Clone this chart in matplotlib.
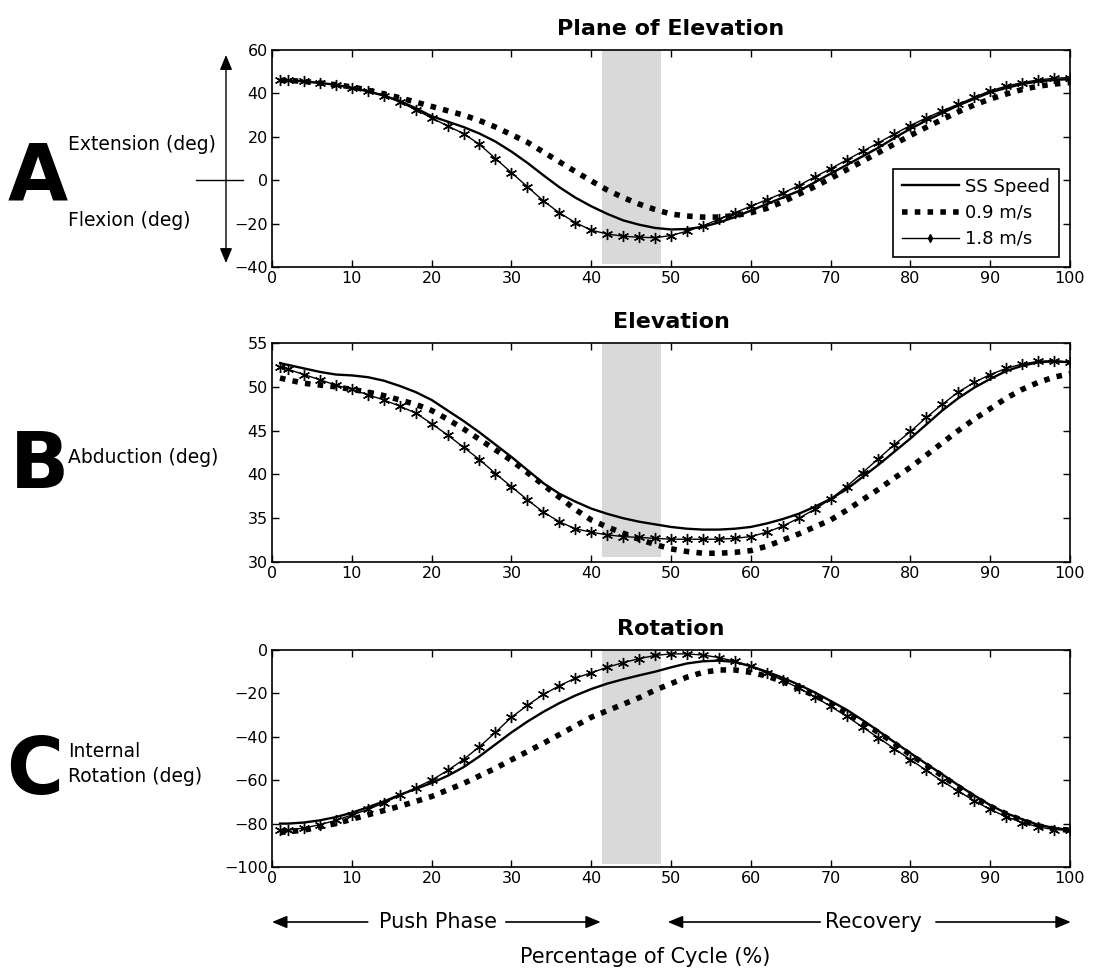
"""Shoulder kinematics over the propulsion cycle - three speeds, three panels."""
import matplotlib
matplotlib.use('Agg')
import matplotlib.pyplot as plt
import matplotlib.transforms as mtransforms
from matplotlib.lines import Line2D

plt.rcParams['font.family'] = ['DejaVu Sans']

# percentage of cycle at which values were read
PCT = [1] + list(range(2, 101, 2))

# A - plane of elevation (deg)
A_SS = [46.0, 46.0, 45.5, 44.8, 44.0, 42.5, 41.0, 39.0, 36.5, 33.2, 29.5,
        27.0, 24.5, 21.5, 17.8, 13.2, 8.0, 2.3, -3.2, -8.0, -12.0,
        -15.5, -18.5, -20.5, -22.0, -22.7, -22.5, -21.5, -19.5, -17.0, -14.0,
        -11.0, -8.0, -5.0, -1.0, 3.0, 7.0, 11.0, 15.0, 19.5, 23.7,
        27.5, 31.0, 34.5, 37.5, 40.5, 42.5, 44.3, 45.5, 46.2, 46.6]
A_09 = [46.0, 46.0, 45.5, 44.8, 44.0, 43.0, 41.5, 39.8, 38.0, 36.0, 34.0,
        32.0, 30.0, 27.5, 24.5, 21.0, 17.5, 13.0, 8.5, 4.0, -0.3,
        -4.5, -8.0, -11.0, -13.5, -15.6, -16.5, -17.0, -17.0, -16.3, -15.0,
        -13.0, -10.0, -6.5, -3.0, 0.8, 4.8, 8.7, 12.7, 16.7, 20.6,
        24.4, 28.0, 31.5, 34.7, 37.4, 39.7, 41.8, 43.3, 44.3, 45.0]
A_18 = [46.0, 46.0, 45.5, 44.8, 44.0, 42.5, 41.0, 39.0, 36.0, 32.5, 28.7,
        25.0, 21.5, 16.5, 10.0, 3.5, -3.0, -9.5, -15.0, -19.5, -23.0,
        -24.8, -25.8, -26.3, -26.5, -25.5, -23.5, -21.0, -18.0, -15.0, -12.0,
        -9.0, -6.0, -2.5, 1.5, 5.3, 9.3, 13.3, 17.3, 21.3, 25.2,
        28.7, 32.0, 35.0, 38.2, 41.2, 43.3, 45.0, 46.2, 47.0, 47.3]

# B - elevation (deg)
B_SS = [52.7, 52.5, 52.1, 51.7, 51.4, 51.3, 51.1, 50.7, 50.1, 49.4, 48.5,
        47.3, 46.1, 44.8, 43.4, 42.0, 40.5, 39.0, 37.8, 36.9, 36.1,
        35.5, 35.0, 34.6, 34.3, 34.0, 33.8, 33.7, 33.7, 33.8, 34.0,
        34.4, 34.9, 35.5, 36.3, 37.2, 38.3, 39.7, 41.1, 42.6, 44.1,
        45.7, 47.3, 48.7, 49.9, 50.9, 51.8, 52.4, 52.8, 52.9, 52.8]
B_09 = [51.0, 50.8, 50.4, 50.2, 50.0, 49.7, 49.4, 49.0, 48.5, 48.0, 47.3,
        46.3, 45.2, 44.0, 42.8, 41.6, 40.2, 38.8, 37.4, 36.0, 34.8,
        34.0, 33.3, 32.6, 32.0, 31.5, 31.2, 31.0, 31.0, 31.1, 31.3,
        31.8, 32.5, 33.2, 34.0, 34.8, 35.9, 37.1, 38.3, 39.6, 40.8,
        42.2, 43.6, 45.0, 46.3, 47.5, 48.7, 49.7, 50.5, 51.1, 51.5]
B_18 = [52.3, 52.0, 51.4, 50.8, 50.2, 49.7, 49.1, 48.5, 47.8, 47.0, 45.8,
        44.5, 43.1, 41.7, 40.1, 38.6, 37.1, 35.7, 34.6, 33.8, 33.4,
        33.1, 32.9, 32.8, 32.7, 32.6, 32.6, 32.6, 32.6, 32.7, 32.9,
        33.4, 34.1, 35.0, 36.0, 37.2, 38.6, 40.2, 41.8, 43.4, 44.9,
        46.5, 48.0, 49.4, 50.5, 51.4, 52.1, 52.6, 52.9, 53.0, 52.8]

# C - rotation (deg)
C_SS = [-80.0, -80.0, -79.5, -78.5, -77.0, -75.0, -72.5, -69.8, -66.8, -64.0, -61.3,
        -58.0, -54.0, -49.0, -43.5, -38.0, -33.0, -28.5, -24.5, -21.0, -18.0,
        -15.5, -13.5, -11.7, -10.0, -8.0, -6.2, -5.2, -4.9, -5.5, -7.5,
        -10.0, -12.8, -16.0, -19.5, -23.5, -27.5, -32.3, -37.3, -42.5, -47.5,
        -52.5, -57.3, -62.3, -67.0, -71.5, -75.2, -78.0, -80.5, -82.0, -83.0]
C_09 = [-84.0, -83.8, -83.0, -81.5, -80.0, -78.0, -76.0, -74.0, -72.0, -69.8, -67.5,
        -64.5, -61.5, -58.0, -54.5, -50.6, -46.8, -43.0, -39.0, -35.0, -31.0,
        -28.0, -25.0, -22.0, -18.5, -15.5, -12.5, -10.3, -9.2, -9.2, -10.3,
        -12.0, -14.5, -17.8, -21.0, -24.5, -29.0, -33.5, -38.0, -43.0, -48.3,
        -53.0, -58.0, -63.0, -67.8, -72.0, -75.5, -78.5, -81.0, -82.5, -83.0]
C_18 = [-83.0, -83.0, -82.0, -80.5, -78.5, -76.0, -73.5, -70.5, -67.0, -63.5, -60.0,
        -55.5, -50.5, -44.5, -38.0, -31.0, -25.5, -20.5, -16.5, -13.0, -10.5,
        -8.0, -5.8, -4.0, -2.5, -1.8, -1.8, -2.3, -3.5, -5.2, -7.5,
        -10.5, -14.0, -17.5, -21.5, -26.0, -30.5, -35.5, -40.5, -45.5, -50.5,
        -55.5, -60.5, -65.0, -69.5, -73.5, -76.8, -79.5, -81.5, -82.8, -83.0]

TITLES = ['Plane of Elevation', 'Elevation', 'Rotation']
YLIMS = [(-40, 60), (30, 55), (-100, 0)]
YTICKS = [[-40, -20, 0, 20, 40, 60], [30, 35, 40, 45, 50, 55],
          [-100, -80, -60, -40, -20, 0]]
BAND_X = (41.3, 48.8)
BAND_LOW = [-38.5, 30.6, -98.5]
LABELS = ['SS Speed', '0.9 m/s', '1.8 m/s']

W, H = 1093, 971
fig = plt.figure(figsize=(W / 100, H / 100), dpi=100)

# axes boxes in pixels: (top, bottom)
boxes = [(50, 267), (343, 562), (650, 867)]
left, right = 272, 1070
series = [(A_SS, A_09, A_18), (B_SS, B_09, B_18), (C_SS, C_09, C_18)]
axes = []
for i, (top, bot) in enumerate(boxes):
    ax = fig.add_axes([left / W, 1 - bot / H, (right - left) / W, (bot - top) / H])
    ss, slow, fast = series[i]
    ax.fill_between(BAND_X, BAND_LOW[i], YLIMS[i][1], color='#d9d9d9', lw=0, zorder=0)
    ax.plot(PCT, slow, color='k', lw=4, ls=(0, (1, 1.3)), dash_capstyle='butt', zorder=2)
    ax.plot(PCT, ss, color='k', lw=1.7, zorder=3)
    ax.plot(PCT, fast, color='k', lw=1, marker=(6, 2, 0), ms=8, mew=1, zorder=4)
    ax.set_xlim(0, 100)
    ax.set_ylim(*YLIMS[i])
    ax.set_xticks(range(0, 101, 10))
    ax.set_yticks(YTICKS[i])
    ax.tick_params(direction='in', top=True, right=True, length=5, width=1,
                   labelsize=11.5, pad=3)
    for s in ax.spines.values():
        s.set_linewidth(1.2)
    ax.set_title(TITLES[i], fontweight='bold', fontsize=16, pad=11)
    axes.append(ax)

axA, axB, axC = axes

handles = [Line2D([], [], color='k', lw=1.7),
           Line2D([], [], color='k', lw=4, ls=(0, (1, 1.3)), dash_capstyle='butt'),
           Line2D([], [], color='k', lw=1, marker='d', ms=4)]
leg = axA.legend(handles, LABELS, loc='lower right', bbox_to_anchor=(0.986, 0.046),
                 borderaxespad=0, fontsize=13, handlelength=3.2, handletextpad=0.3,
                 labelspacing=0.45, borderpad=0.5, fancybox=False, edgecolor='k',
                 framealpha=1)
leg.get_frame().set_linewidth(1.2)

# panel letters and side labels
for letter, x0, base in [('A', 8, 200), ('B', 10, 488), ('C', 6, 794)]:
    fig.text(x0 / W, 1 - base / H, letter, fontsize=56, fontweight='bold',
             ha='left', va='baseline')
for txt, yc in [('Extension (deg)', 145), ('Flexion (deg)', 221),
                ('Abduction (deg)', 457), ('Internal', 751), ('Rotation (deg)', 776)]:
    fig.text(68 / W, 1 - yc / H, txt, fontsize=13.5, ha='left', va='center')

# double arrow and zero marker beside panel A
trA = mtransforms.blended_transform_factory(fig.transFigure, axA.transData)
axA.annotate('', xy=(226 / W, 57.7), xycoords=trA, xytext=(226 / W, -38.2), textcoords=trA,
             arrowprops=dict(arrowstyle='<|-|>,head_length=0.6,head_width=0.25',
                             color='k', lw=1, mutation_scale=15, shrinkA=0, shrinkB=0))
fig.add_artist(Line2D([196 / W, 243 / W], [0, 0], transform=trA, color='k', lw=1))

# phase arrows under panel C
trC = mtransforms.blended_transform_factory(axC.transData, axC.transAxes)
ya = -0.2535
arrow = dict(arrowstyle='-|>,head_length=0.6,head_width=0.25', color='k', lw=1.2,
             mutation_scale=15, shrinkA=0, shrinkB=0)
for tail, tip in [(12.0, 0), (29.3, 41.2), (68.7, 49.6), (83.2, 100.1)]:
    axC.annotate('', xy=(tip, ya), xycoords=trC, xytext=(tail, ya), textcoords=trC,
                 arrowprops=arrow)
axC.text(20.8, ya, 'Push Phase', transform=trC, fontsize=15, ha='center', va='center')
axC.text(75.4, ya, 'Recovery', transform=trC, fontsize=15, ha='center', va='center')
fig.text(645 / W, 1 - 957 / H, 'Percentage of Cycle (%)', fontsize=15,
         ha='center', va='center')

fig.savefig('out.png', dpi=100)
plt.close(fig)
